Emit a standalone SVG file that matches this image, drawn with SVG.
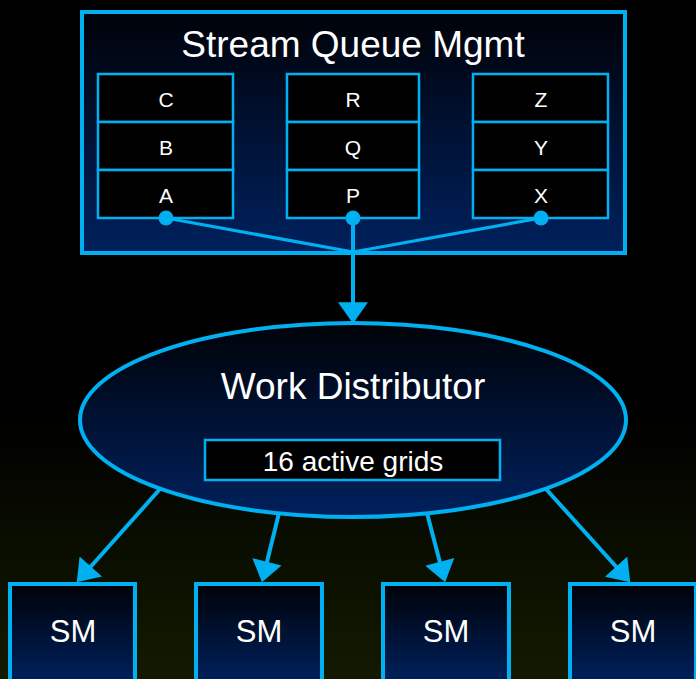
<svg xmlns="http://www.w3.org/2000/svg" width="696" height="679" viewBox="0 0 696 679">
<defs>
<linearGradient id="bg" x1="0" y1="0" x2="0" y2="1">
<stop offset="0" stop-color="#000000"/>
<stop offset="0.6" stop-color="#000000"/>
<stop offset="1" stop-color="#131a00"/>
</linearGradient>
<linearGradient id="navy" x1="0" y1="0" x2="0" y2="1">
<stop offset="0" stop-color="#000208"/>
<stop offset="1" stop-color="#00215e"/>
</linearGradient>
<marker id="ah" markerUnits="userSpaceOnUse" markerWidth="22" markerHeight="30" viewBox="0 0 19 27" refX="15" refY="13.5" orient="auto">
<path d="M0,0 L19,13.5 L0,27 z" fill="#00b0f0"/>
</marker>
<style>
.frame{fill:url(#navy);stroke:#00b0f0;stroke-width:4}
.cell{fill:#000000;stroke:#00b0f0;stroke-width:2.5}
.lbl{fill:#ffffff;font-family:"Liberation Sans",Arial,sans-serif;text-anchor:middle}
.q{font-size:21px}
.big{font-size:37px}
.sm{font-size:31px}
.conn{stroke:#00b0f0;fill:none;stroke-width:4}
.thin{stroke:#00b0f0;fill:none;stroke-width:3.2}
.dot{fill:#00b0f0}
</style>
</defs>
<rect x="0" y="0" width="696" height="679" fill="url(#bg)"/>

<g id="stream-queue-mgmt">
<rect class="frame" x="82" y="12" width="543" height="241"/>
<text class="lbl big" x="353" y="57">Stream Queue Mgmt</text>
</g>

<g id="queue-1">
<rect class="cell" x="98" y="74" width="135" height="48"/>
<rect class="cell" x="98" y="122" width="135" height="48"/>
<rect class="cell" x="98" y="170" width="135" height="48"/>
<text class="lbl q" x="166" y="107">C</text>
<text class="lbl q" x="166" y="155">B</text>
<text class="lbl q" x="166" y="203">A</text>
</g>
<g id="queue-2">
<rect class="cell" x="287" y="74" width="132" height="48"/>
<rect class="cell" x="287" y="122" width="132" height="48"/>
<rect class="cell" x="287" y="170" width="132" height="48"/>
<text class="lbl q" x="353" y="107">R</text>
<text class="lbl q" x="353" y="155">Q</text>
<text class="lbl q" x="353" y="203">P</text>
</g>
<g id="queue-3">
<rect class="cell" x="473" y="74" width="135" height="48"/>
<rect class="cell" x="473" y="122" width="135" height="48"/>
<rect class="cell" x="473" y="170" width="135" height="48"/>
<text class="lbl q" x="541" y="107">Z</text>
<text class="lbl q" x="541" y="155">Y</text>
<text class="lbl q" x="541" y="203">X</text>
</g>

<g id="work-distributor">
<ellipse class="frame" cx="353" cy="420" rx="273" ry="97"/>
<text class="lbl big" x="353" y="399">Work Distributor</text>
<rect x="205" y="440" width="295" height="40" fill="#000000" stroke="#00b0f0" stroke-width="2.5"/>
<text class="lbl" x="353" y="471" font-size="28">16 active grids</text>
</g>

<g id="sm-1">
<rect class="frame" x="10" y="584" width="125" height="100"/>
<text class="lbl sm" x="73" y="642">SM</text>
</g>
<g id="sm-2">
<rect class="frame" x="196" y="584" width="126" height="100"/>
<text class="lbl sm" x="259" y="642">SM</text>
</g>
<g id="sm-3">
<rect class="frame" x="383" y="584" width="126" height="100"/>
<text class="lbl sm" x="446" y="642">SM</text>
</g>
<g id="sm-4">
<rect class="frame" x="570" y="584" width="126" height="100"/>
<text class="lbl sm" x="633" y="642">SM</text>
</g>

<g id="connectors">
<line class="thin" x1="166" y1="218" x2="353" y2="252"/>
<line class="thin" x1="541" y1="218" x2="353" y2="252"/>
<line class="conn" x1="353" y1="218" x2="353" y2="319" marker-end="url(#ah)"/>
<circle class="dot" cx="166" cy="218" r="7.5"/>
<circle class="dot" cx="353" cy="218" r="7.5"/>
<circle class="dot" cx="541" cy="218" r="7.5"/>
<line class="conn" x1="160" y1="489" x2="79.7" y2="579" marker-end="url(#ah)"/>
<line class="conn" x1="279" y1="513" x2="263" y2="578" marker-end="url(#ah)"/>
<line class="conn" x1="427" y1="513" x2="444" y2="578" marker-end="url(#ah)"/>
<line class="conn" x1="546" y1="489" x2="627.3" y2="579" marker-end="url(#ah)"/>
</g>
</svg>
